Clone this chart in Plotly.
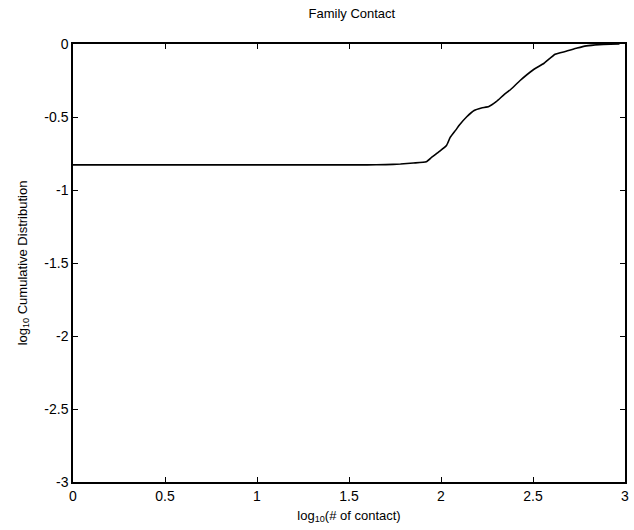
import plotly.graph_objects as go

# Data (log10 # of contact vs log10 cumulative distribution)
log_contacts = [0.0, 1.60, 1.70, 1.78, 1.85, 1.92, 1.95, 1.99, 2.03, 2.05, 2.08, 2.10,
                2.14, 2.18, 2.22, 2.26, 2.30, 2.34, 2.38, 2.43, 2.50, 2.56, 2.62,
                2.68, 2.74, 2.79, 2.86, 2.92, 2.97]
log_cumdist = [-0.828, -0.828, -0.826, -0.822, -0.815, -0.806, -0.775, -0.737, -0.695,
               -0.640, -0.590, -0.555, -0.498, -0.455, -0.438, -0.428, -0.395, -0.350,
               -0.310, -0.250, -0.178, -0.132, -0.070, -0.050, -0.028, -0.013,
               -0.004, -0.001, 0.0]

x_ticks = [0, 0.5, 1, 1.5, 2, 2.5, 3]
x_ticklabels = ["0", "0.5", "1", "1.5", "2", "2.5", "3"]
y_ticks = [0, -0.5, -1, -1.5, -2, -2.5, -3]
y_ticklabels = ["0", "-0.5", "-1", "-1.5", "-2", "-2.5", "-3"]

FONT = "Liberation Sans, Arial, sans-serif"

fig = go.Figure()
fig.add_trace(go.Scatter(
    x=log_contacts, y=log_cumdist, mode="lines",
    line=dict(color="black", width=1.6, shape="spline", smoothing=0.4),
    showlegend=False, hoverinfo="skip",
))

axis_common = dict(
    showline=True, linecolor="black", linewidth=1.5, mirror="allticks",
    ticks="inside", ticklen=5, tickwidth=1, tickcolor="black",
    showgrid=False, zeroline=False,
    tickfont=dict(family=FONT, size=14, color="black"),
)

fig.update_layout(
    width=634, height=530,
    margin=dict(l=73, r=5, t=44, b=48),
    paper_bgcolor="white", plot_bgcolor="white",
    title=dict(text="Family Contact", x=0.555, xanchor="center", y=0.975, yanchor="middle",
               font=dict(family=FONT, size=13, color="black")),
    xaxis=dict(range=[0, 3], tickvals=x_ticks, ticktext=x_ticklabels,
               title=dict(text="log<sub>10</sub>(# of contact)", standoff=8,
                          font=dict(family=FONT, size=13, color="black")),
               **axis_common),
    yaxis=dict(range=[-3, 0], tickvals=y_ticks, ticktext=y_ticklabels,
               title=dict(text="log<sub>10</sub> Cumulative Distribution", standoff=14,
                          font=dict(family=FONT, size=13, color="black")),
               **axis_common),
)

fig.write_html("out.html")
